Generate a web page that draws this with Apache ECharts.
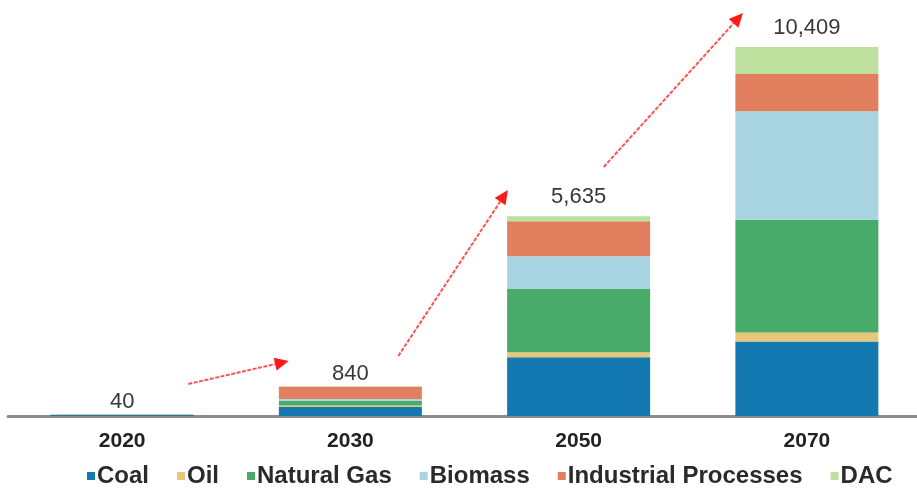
<!DOCTYPE html>
<html>
<head>
<meta charset="utf-8">
<script src="https://cdn.jsdelivr.net/npm/echarts@6/dist/echarts.min.js"></script>
<style>
  html, body { margin: 0; padding: 0; background: #fff; overflow: hidden; }
  #chart { width: 925px; height: 488px; }
</style>
</head>
<body>
<div id="chart"></div>
<script>
// Capture capacity by source (stacked), with totals labelled above each year
const categories = ['2020', '2030', '2050', '2070'];
const coal       = [30, 255, 1656, 2098];
const oil        = [0, 40, 142, 254];
const naturalGas = [5, 125, 1782, 3182];
const biomass    = [0, 60, 929, 3058];
const industrial = [5, 345, 984, 1056];
const dac        = [0, 15, 142, 761];
const totals     = [40, 840, 5635, 10409];

// Growth arrows: [from category index, offset within band, value] -> [to ...]
const arrows = [
  [[0, 0.29, 903],  [1, -0.27, 1551]],
  [[1, 0.21, 1693], [2, -0.31, 6375]],
  [[2, 0.11, 7024], [3, -0.28, 11368]]
];

const FONT = '"Liberation Sans", Arial, sans-serif';
// gap between each total label and its bar top
const totalLabelGap = [2, 1.5, 8, 8];

const seriesDefs = [
  { name: 'Coal', data: coal, color: '#1479b0' },
  { name: 'Oil', data: oil, color: '#e8c878' },
  { name: 'Natural Gas', data: naturalGas, color: '#49ab69' },
  { name: 'Biomass', data: biomass, color: '#a8d5e1' },
  { name: 'Industrial Processes', data: industrial, color: '#e27f5e' },
  { name: 'DAC', data: dac, color: '#bde09f' }
];

const chart = echarts.init(document.getElementById('chart'), null, { renderer: 'canvas' });

const series = seriesDefs.map(s => ({
  name: s.name,
  type: 'bar',
  stack: 'total',
  data: s.data,
  barWidth: 143,
  itemStyle: { color: s.color },
  emphasis: { disabled: true }
}));

// Invisible overlay bar carrying the total labels
series.push({
  name: 'Total',
  type: 'bar',
  data: totals.map((v, i) => ({ value: v, label: { distance: totalLabelGap[i] } })),
  barWidth: 143,
  barGap: '-100%',
  silent: true,
  z: 1,
  itemStyle: { color: 'rgba(0,0,0,0)' },
  label: {
    show: true,
    position: 'top',
    fontFamily: FONT,
    fontSize: 22,
    color: '#383838',
    formatter: p => p.value.toLocaleString('en-US')
  }
});

chart.setOption({
  animation: false,
  backgroundColor: '#fff',
  grid: { left: 8, width: 913, top: 26, bottom: 72, containLabel: false },
  legend: {
    data: seriesDefs.map(s => s.name),
    left: 82,
    top: 459,
    icon: 'rect',
    itemWidth: 8,
    itemHeight: 8,
    itemGap: 28,
    textStyle: { fontFamily: FONT, fontSize: 24, fontWeight: 'bold', color: '#2a2a2a', padding: [0, 0, 0, -3] }
  },
  xAxis: {
    type: 'category',
    data: categories,
    axisLine: { lineStyle: { color: '#8c8c8c', width: 3 } },
    axisTick: { show: false },
    axisLabel: { fontFamily: FONT, fontSize: 21, fontWeight: 'bold', color: '#222', margin: 15 }
  },
  yAxis: {
    type: 'value',
    min: 0,
    max: 11000,
    show: false,
    splitLine: { show: false }
  },
  series: series
});

// Draw the red dashed growth arrows in data space
function drawArrows() {
  const p0 = chart.convertToPixel({ gridIndex: 0 }, [0, 0]);
  const p1 = chart.convertToPixel({ gridIndex: 0 }, [1, 0]);
  const band = p1[0] - p0[0];
  const toPx = a => {
    const p = chart.convertToPixel({ gridIndex: 0 }, [a[0], a[2]]);
    return [p[0] + a[1] * band, p[1]];
  };
  const elements = [];
  arrows.forEach(([from, to]) => {
    const a = toPx(from), b = toPx(to);
    const dx = b[0] - a[0], dy = b[1] - a[1];
    const len = Math.hypot(dx, dy);
    const ux = dx / len, uy = dy / len;
    const headLen = 14, headW = 6.5;
    const base = [b[0] - ux * headLen, b[1] - uy * headLen];
    elements.push({
      type: 'line',
      silent: true,
      shape: { x1: a[0], y1: a[1], x2: base[0], y2: base[1] },
      style: { stroke: '#ff3535', lineWidth: 2, lineDash: [4, 1.5], opacity: 0.85 }
    });
    elements.push({
      type: 'polygon',
      silent: true,
      shape: {
        points: [
          [b[0], b[1]],
          [base[0] - uy * headW, base[1] + ux * headW],
          [base[0] + uy * headW, base[1] - ux * headW]
        ]
      },
      style: { fill: '#ff1a1a' }
    });
  });
  chart.setOption({ graphic: elements });
}
drawArrows();
</script>
</body>
</html>
